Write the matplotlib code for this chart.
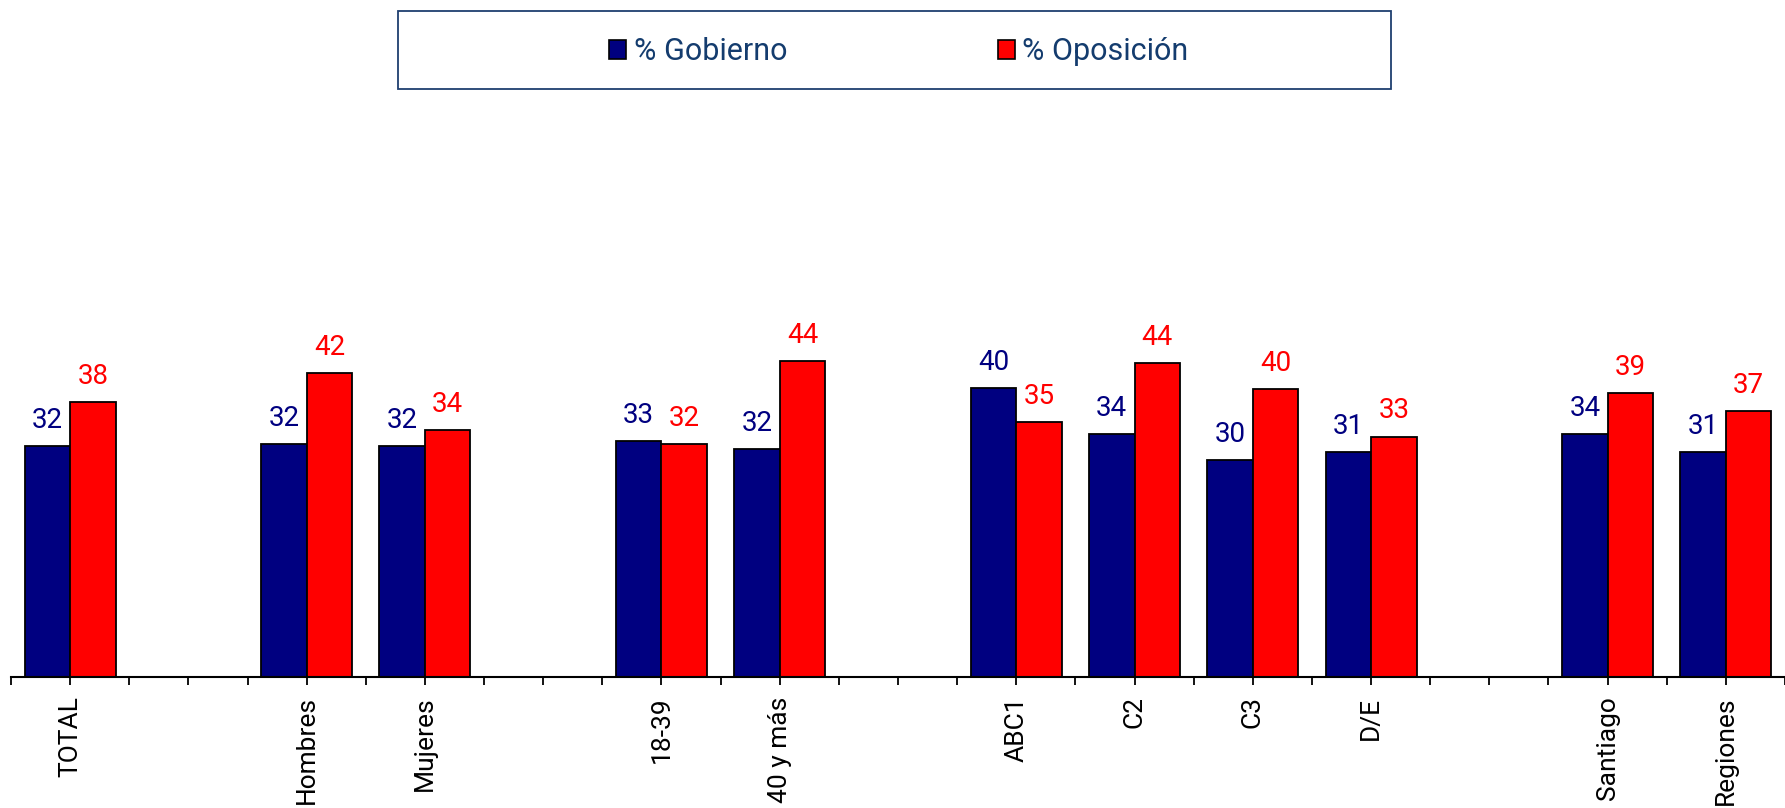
import matplotlib.pyplot as plt
import matplotlib.patches as mpatches
import numpy as np

# categories (blank slots separate the groups)
categories = ['TOTAL', '', 'Hombres', 'Mujeres', '', '18-39', '40 y más', '',
              'ABC1', 'C2', 'C3', 'D/E', '', 'Santiago', 'Regiones']
slots = [0, 2, 3, 5, 6, 8, 9, 10, 11, 13, 14]
gobierno = [32.1, 32.4, 32.1, 32.8, 31.7, 40.1, 33.8, 30.1, 31.2, 33.8, 31.2]
oposicion = [38.2, 42.2, 34.3, 32.4, 43.9, 35.4, 43.6, 40.0, 33.4, 39.4, 36.9]

BLUE = '#000080'
RED = '#FF0000'
LEG_TXT = '#143C6E'

plt.rcParams['font.family'] = ['Roboto', 'DejaVu Sans']

fig = plt.figure(figsize=(17.85, 8.08), dpi=100)
ax = fig.add_axes([11 / 1785, 131 / 808, 1774 / 1785, 432 / 808])

x = np.array(slots)
w = 0.385
b1 = ax.bar(x - w / 2, gobierno, w, color=BLUE, edgecolor='black', linewidth=1.3)
b2 = ax.bar(x + w / 2, oposicion, w, color=RED, edgecolor='black', linewidth=1.3)

# value labels
for bars, vals, col in [(b1, gobierno, BLUE), (b2, oposicion, RED)]:
    for r, v in zip(bars, vals):
        ax.annotate(f'{round(v):d}', (r.get_x() + r.get_width() / 2, v),
                    xytext=(0, 13), textcoords='offset points',
                    ha='center', va='baseline', fontsize=20, color=col)

ax.set_xlim(-0.5, -0.5 + 1774 / 118.7)
ax.set_ylim(0, 60)

for s in ['top', 'right', 'left']:
    ax.spines[s].set_visible(False)
ax.spines['bottom'].set_linewidth(1.5)
ax.set_yticks([])

ax.set_xticks(np.arange(len(categories)))
ax.set_xticklabels(categories, rotation=90, fontsize=19)
ax.set_xticks(np.arange(-0.5, len(categories), 1.0), minor=True)
ax.tick_params(axis='x', which='both', direction='out', length=6, width=1.3)
ax.tick_params(axis='x', which='major', pad=8)

# legend with its own frame
handles = [mpatches.Patch(facecolor=BLUE, edgecolor='black', linewidth=1.2),
           mpatches.Patch(facecolor=RED, edgecolor='black', linewidth=1.2)]
leg = fig.legend(handles, ['% Gobierno', '% Oposición'], ncol=2, loc='center',
                 bbox_to_anchor=(899 / 1785, 1 - 52 / 808), frameon=False,
                 fontsize=22, handlelength=0.55, handleheight=0.55,
                 handletextpad=0.25, columnspacing=6.9, borderpad=0)
for t in leg.get_texts():
    t.set_color(LEG_TXT)
fig.patches.append(mpatches.Rectangle((398 / 1785, 1 - 89 / 808), 993 / 1785, 78 / 808,
                                      transform=fig.transFigure, fill=False,
                                      edgecolor='#1F3F6F', linewidth=1.3))

fig.savefig('out.png', dpi=100)
